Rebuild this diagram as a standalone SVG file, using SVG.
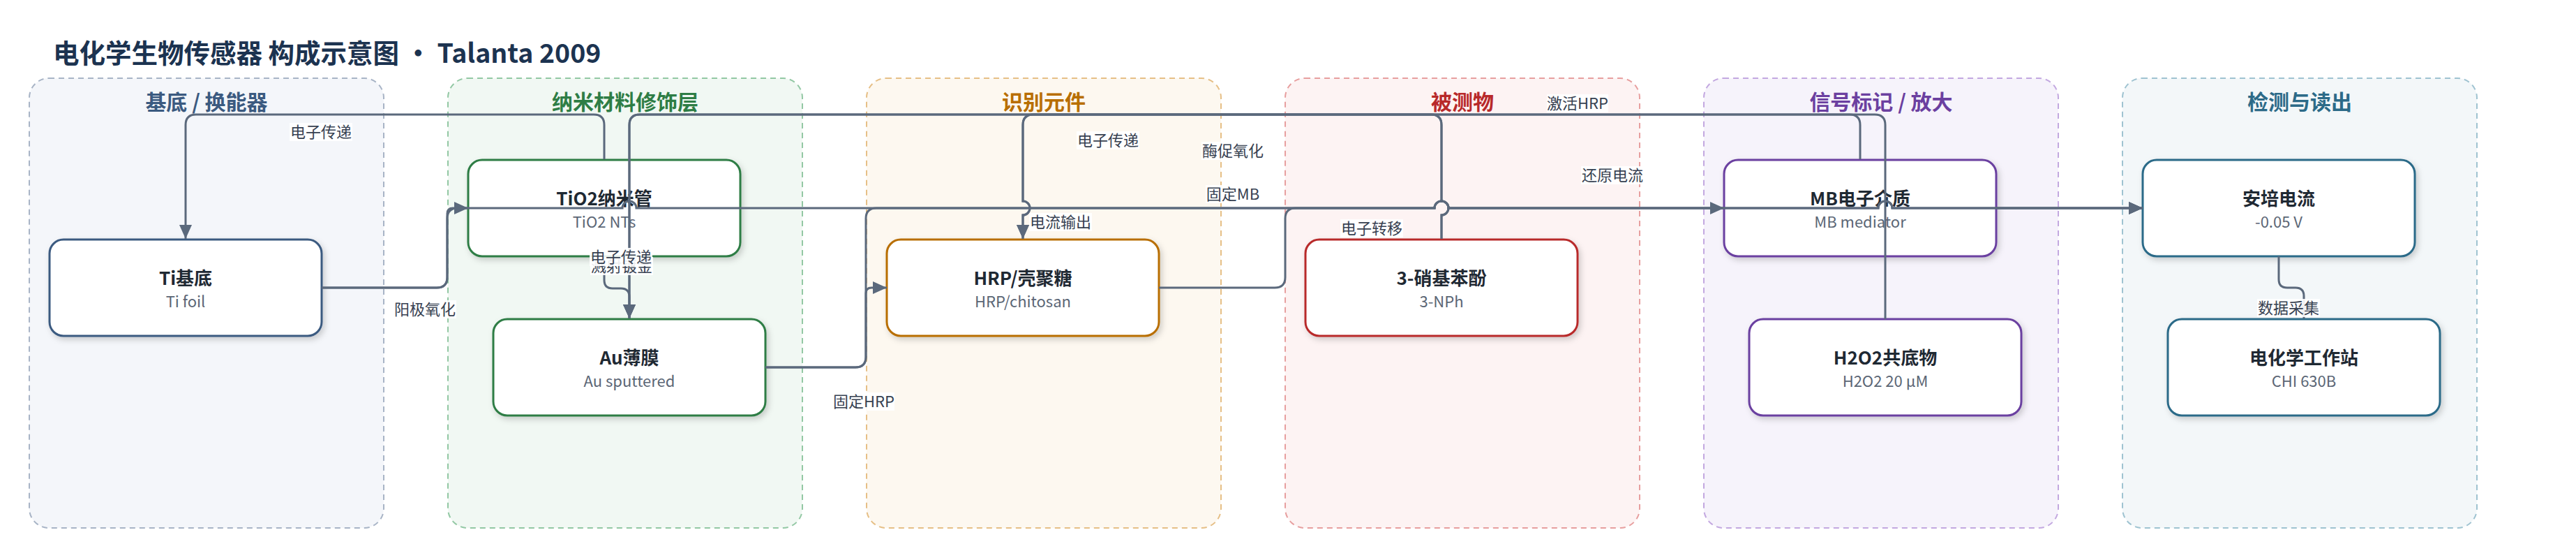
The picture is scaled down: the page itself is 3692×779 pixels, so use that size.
<svg xmlns="http://www.w3.org/2000/svg" width="3692" height="779" viewBox="0 0 3692 779">
<defs>
<style>
text{font-family:"Noto Sans CJK SC","Noto Sans",sans-serif}
.title{font-size:37.5px;font-weight:700;fill:#1c3350}
.ct{font-size:30px;font-weight:700;text-anchor:middle}
.cont{stroke-width:2;stroke-dasharray:8 6}
.node{fill:#fff;stroke-width:3;filter:url(#sh)}
.nt{font-size:26px;font-weight:700;fill:#1f2933;text-anchor:middle}
.ns{font-size:22px;fill:#5b6675;text-anchor:middle}
.e{fill:none;stroke:#5b697c;stroke-width:3}
.ea{marker-end:url(#arr)}
.lb{fill:#fff;fill-opacity:0.9}
.lt{font-size:22px;fill:#374151;text-anchor:middle}
</style>
<filter id="sh" x="-10%" y="-20%" width="125%" height="150%">
<feDropShadow dx="3" dy="4" stdDeviation="4" flood-color="#000" flood-opacity="0.18"/>
</filter>
<marker id="arr" markerUnits="userSpaceOnUse" markerWidth="20" markerHeight="18" viewBox="0 0 20 18" refX="20" refY="9" orient="auto">
<path d="M0,0 L20,9 L0,18 Z" fill="#5b697c"/>
</marker>
</defs>
<rect width="3692" height="779" fill="#fff"/>
<text class="title" x="76" y="90">电化学生物传感器 构成示意图 · Talanta 2009</text>

<g id="containers">
<g id="c-substrate"><rect class="cont" x="42" y="112" width="508" height="644" rx="28" fill="#f4f6fa" stroke="#a8b4c6"/><text class="ct" x="296" y="157" fill="#3b5a80">基底 / 换能器</text></g>
<g id="c-nano"><rect class="cont" x="642" y="112" width="508" height="644" rx="28" fill="#f1f8f3" stroke="#93c8a4"/><text class="ct" x="896" y="157" fill="#2e7d45">纳米材料修饰层</text></g>
<g id="c-recog"><rect class="cont" x="1242" y="112" width="508" height="644" rx="28" fill="#fdf8f0" stroke="#e6bf86"/><text class="ct" x="1496" y="157" fill="#b86e00">识别元件</text></g>
<g id="c-analyte"><rect class="cont" x="1842" y="112" width="508" height="644" rx="28" fill="#fdf3f3" stroke="#e79f9f"/><text class="ct" x="2096" y="157" fill="#b8292a">被测物</text></g>
<g id="c-signal"><rect class="cont" x="2442" y="112" width="508" height="644" rx="28" fill="#f6f3fb" stroke="#c3a8e0"/><text class="ct" x="2696" y="157" fill="#6b3fa0">信号标记 / 放大</text></g>
<g id="c-readout"><rect class="cont" x="3042" y="112" width="508" height="644" rx="28" fill="#f3f7f9" stroke="#9fc3d1"/><text class="ct" x="3296" y="157" fill="#2c6a88">检测与读出</text></g>
</g>

<g id="n-ti"><rect class="node" x="71" y="343" width="390" height="138" rx="20" stroke="#3b5a80"/><text class="nt" x="266" y="408">Ti基底</text><text class="ns" x="266" y="440">Ti foil</text></g>
<g id="n-tio2"><rect class="node" x="671" y="229" width="390" height="138" rx="20" stroke="#2e7d45"/><text class="nt" x="866" y="294">TiO2纳米管</text><text class="ns" x="866" y="326">TiO2 NTs</text></g>
<g id="n-au"><rect class="node" x="707" y="457" width="390" height="138" rx="20" stroke="#2e7d45"/><text class="nt" x="902" y="522">Au薄膜</text><text class="ns" x="902" y="554">Au sputtered</text></g>
<g id="n-hrp"><rect class="node" x="1271" y="343" width="390" height="138" rx="20" stroke="#b86e00"/><text class="nt" x="1466" y="408">HRP/壳聚糖</text><text class="ns" x="1466" y="440">HRP/chitosan</text></g>
<g id="n-nph"><rect class="node" x="1871" y="343" width="390" height="138" rx="20" stroke="#b8292a"/><text class="nt" x="2066" y="408">3-硝基苯酚</text><text class="ns" x="2066" y="440">3-NPh</text></g>
<g id="n-mb"><rect class="node" x="2471" y="229" width="390" height="138" rx="20" stroke="#6b3fa0"/><text class="nt" x="2666" y="294">MB电子介质</text><text class="ns" x="2666" y="326">MB mediator</text></g>
<g id="n-h2o2"><rect class="node" x="2507" y="457" width="390" height="138" rx="20" stroke="#6b3fa0"/><text class="nt" x="2702" y="522">H2O2共底物</text><text class="ns" x="2702" y="554">H2O2 20 µM</text></g>
<g id="n-amp"><rect class="node" x="3071" y="229" width="390" height="138" rx="20" stroke="#2c6a88"/><text class="nt" x="3266" y="294">安培电流</text><text class="ns" x="3266" y="326">-0.05 V</text></g>
<g id="n-chi"><rect class="node" x="3107" y="457" width="390" height="138" rx="20" stroke="#2c6a88"/><text class="nt" x="3302" y="522">电化学工作站</text><text class="ns" x="3302" y="554">CHI 630B</text></g>

<g id="connectors">
<path class="e ea" d="M461,412 H626 Q641,412 641,397 V306 Q641,298 649,298 H671"/>
<path class="e ea" d="M866,228 V179 Q866,164 851,164 H281 Q266,164 266,179 V342"/>
<path class="e ea" d="M866,367 V401 Q866,413 878,413 H890 Q902,413 902,425 V456"/>
<path class="e ea" d="M2666,228 V179 Q2666,164 2651,164 H917 Q902,164 902,179 V456"/>
<path class="e ea" d="M2702,457 V179 Q2702,164 2687,164 H1481 Q1466,164 1466,179 V288 A10,10 0 0 1 1466,308 V342"/>
<path class="e ea" d="M2066,342 V308 A10,10 0 0 0 2066,288 V179 Q2066,164 2051,164 H1481 Q1466,164 1466,179 V288 A10,10 0 0 1 1466,308 V342"/>
<path class="e ea" d="M2066,342 V308 A10,10 0 0 0 2066,288 V179 Q2066,164 2051,164 H917 Q902,164 902,179 V456"/>
<path class="e ea" d="M1097,526 H1226 Q1241,526 1241,511 V420 Q1241,412 1249,412 H1271"/>
<path class="e ea" d="M1097,526 H1226 Q1241,526 1241,511 V313 Q1241,298 1256,298 H2056 A10,10 0 0 1 2076,298 H2692 A10,10 0 0 1 2712,298 H3071"/>
<path class="e ea" d="M1661,412 H1827 Q1842,412 1842,397 V313 Q1842,298 1857,298 H2056 A10,10 0 0 1 2076,298 H2471"/>
<path class="e ea" d="M461,412 H626 Q641,412 641,397 V313 Q641,298 656,298 H892 A10,10 0 0 1 912,298 H2056 A10,10 0 0 1 2076,298 H2692 A10,10 0 0 1 2712,298 H3071"/>
<path class="e ea" d="M2861,298 H3071"/>
<path class="e ea" d="M3266,367 V400 Q3266,412 3278,412 H3290 Q3302,412 3302,424 V456"/>
</g>

<g id="labels">
<rect class="lb" x="564" y="430" width="90" height="26"/><text class="lt" x="609" y="451">阳极氧化</text>
<rect class="lb" x="415" y="176" width="90" height="26"/><text class="lt" x="460" y="197">电子传递</text>
<rect class="lb" x="846" y="368" width="90" height="26"/><text class="lt" x="891" y="389">溅射镀金</text>
<rect class="lb" x="845" y="355" width="90" height="26"/><text class="lt" x="890" y="376">电子传递</text>
<rect class="lb" x="1194" y="562" width="88" height="26"/><text class="lt" x="1238" y="583">固定HRP</text>
<rect class="lb" x="1475" y="305" width="90" height="26"/><text class="lt" x="1520" y="326">电流输出</text>
<rect class="lb" x="1543" y="188" width="90" height="26"/><text class="lt" x="1588" y="209">电子传递</text>
<rect class="lb" x="1722" y="203" width="90" height="26"/><text class="lt" x="1767" y="224">酶促氧化</text>
<rect class="lb" x="1728" y="265" width="78" height="26"/><text class="lt" x="1767" y="286">固定MB</text>
<rect class="lb" x="1921" y="314" width="90" height="26"/><text class="lt" x="1966" y="335">电子转移</text>
<rect class="lb" x="2217" y="135" width="88" height="26"/><text class="lt" x="2261" y="156">激活HRP</text>
<rect class="lb" x="2266" y="238" width="90" height="26"/><text class="lt" x="2311" y="259">还原电流</text>
<rect class="lb" x="3235" y="428" width="90" height="26"/><text class="lt" x="3280" y="449">数据采集</text>
</g>
</svg>
